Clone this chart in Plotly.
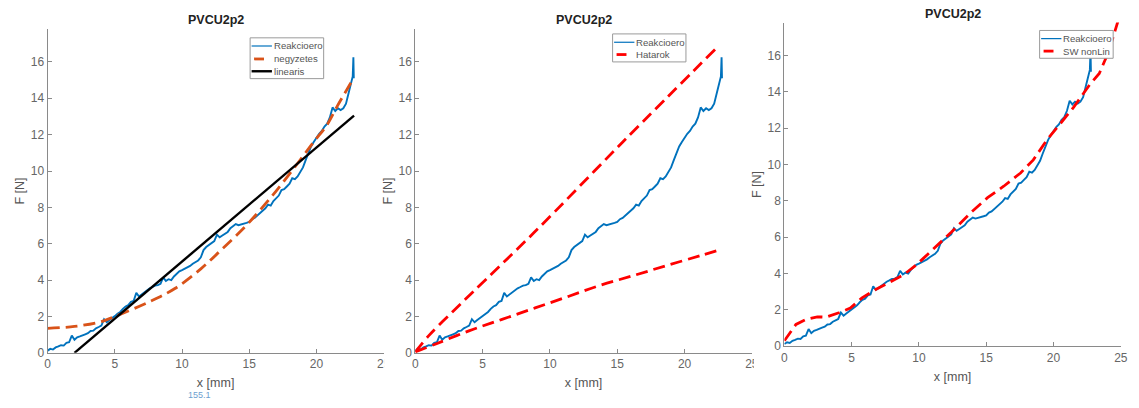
import plotly.graph_objects as go

W, H = 1139, 408
FONT = "Liberation Sans, Arial, Helvetica, sans-serif"

# ---- measured reaction force (same record in every panel) ----
reak_x = [0.0, 0.2, 0.4, 0.6, 0.8, 1.0, 1.2, 1.4, 1.6, 1.8,
          2.0, 2.2, 2.4, 2.6, 2.8, 3.0, 3.2, 3.4, 3.6, 3.8,
          4.0, 4.2, 4.4, 4.6, 4.8, 5.0, 5.2, 5.4, 5.6, 5.8,
          6.0, 6.2, 6.4, 6.6, 6.8, 7.0, 7.2, 7.4, 7.6, 7.8,
          8.0, 8.2, 8.4, 8.6, 8.8, 9.0, 9.2, 9.4, 9.6, 9.8,
          10.0, 10.2, 10.4, 10.6, 10.8, 11.0, 11.2, 11.4, 11.6, 11.8,
          12.0, 12.2, 12.4, 12.6, 12.8, 13.0, 13.2, 13.4, 13.6, 13.8,
          14.0, 14.2, 14.4, 14.6, 14.8, 15.0, 15.2, 15.4, 15.6, 15.8,
          16.0, 16.2, 16.4, 16.6, 16.8, 17.0, 17.2, 17.4, 17.6, 17.8,
          18.0, 18.2, 18.4, 18.6, 18.8, 19.0, 19.2, 19.4, 19.6, 19.8,
          20.0, 20.2, 20.4, 20.6, 20.8, 21.0, 21.2, 21.4, 21.6, 21.8,
          22.0, 22.2, 22.4, 22.6, 22.70, 22.75, 22.78]
reak_f = [0.12, 0.22, 0.18, 0.30, 0.35, 0.42, 0.40, 0.55, 0.58, 0.95,
          0.72, 0.85, 0.90, 0.98, 1.02, 1.08, 1.20, 1.22, 1.35, 1.42,
          1.50, 1.85, 1.68, 1.80, 1.90, 2.02, 2.15, 2.25, 2.42, 2.55,
          2.62, 2.80, 2.85, 3.30, 3.10, 3.22, 3.35, 3.45, 3.55, 3.62,
          3.70, 3.72, 3.80, 4.15, 3.95, 4.05, 4.00, 4.20, 4.35, 4.48,
          4.55, 4.62, 4.70, 4.78, 4.90, 5.00, 5.08, 5.25, 5.65, 5.82,
          5.92, 6.05, 6.15, 6.50, 6.35, 6.45, 6.55, 6.65, 6.85, 6.95,
          7.08, 7.02, 7.05, 7.10, 7.15, 7.20, 7.35, 7.42, 7.55, 7.70,
          7.85, 7.95, 8.15, 8.10, 8.35, 8.50, 8.65, 8.95, 9.00, 9.15,
          9.30, 9.60, 9.55, 9.70, 9.95, 10.20, 10.60, 11.00, 11.35, 11.60,
          11.85, 12.05, 12.20, 12.45, 12.60, 12.95, 13.50, 13.30, 13.45, 13.35,
          13.45, 13.70, 14.30, 14.85, 15.20, 16.25, 15.10]

# ---- panel 1: quadratic and linear fits ----
negyz_x = [0, 2, 4, 5, 7.7, 9.5, 11.4, 12.9, 14.9, 17.0, 18.8, 19.8, 20.8, 21.5, 22.6]
negyz_f = [1.35, 1.45, 1.72, 2.0, 2.85, 3.55, 4.62, 5.65, 7.1, 8.9, 10.62, 11.6, 12.55, 13.5, 14.9]
lin_x = [2.0, 22.8]
lin_f = [0.0, 13.05]

# ---- panel 2: upper / lower bounds ----
hat_up_x = [0, 1.0, 2.75, 4.35, 8.8, 15.5, 22.35]
hat_up_f = [0.05, 0.95, 2.25, 3.4, 6.6, 11.66, 16.75]
hat_lo_x = [0, 1.52, 3.98, 6.44, 8.9, 11.36, 13.8, 16.3, 18.7, 21.2, 22.8]
hat_lo_f = [0.05, 0.49, 1.21, 1.84, 2.47, 3.1, 3.73, 4.27, 4.81, 5.35, 5.71]

# ---- panel 3: SW nonlinear model ----
sw_x = [0, 0.86, 1.6, 2.45, 3.07, 4.05, 4.9, 5.77, 6.75, 7.85, 8.84, 9.8, 10.7,
        11.4, 12.4, 13.87, 15.1, 16.3, 17.55, 18.5, 19.5, 20.5, 21.5, 22.7,
        23.4, 24.1, 24.8]
sw_f = [0.3, 1.2, 1.48, 1.62, 1.6, 1.84, 2.1, 2.66, 3.11, 3.56, 3.92, 4.47, 5.1,
        5.55, 6.27, 7.36, 8.17, 8.8, 9.53, 10.25, 11.34, 12.24, 13.15, 14.4,
        15.0, 16.2, 17.9]

x_ticks = [0, 5, 10, 15, 20, 25]
y_ticks = [0, 2, 4, 6, 8, 10, 12, 14, 16]
X_MAX, Y_MAX = 25, 17.8

BLUE = "#0072BD"
ORANGE = "#D95319"
RED = "#FF0000"
DASH = "12px,6px"

# plot-area placement of the three axes, in page pixels
boxes = [
    dict(left=45, right=384, bottom=359, top=29.7, title_y=20),
    dict(left=416, right=755.5, bottom=359, top=29.7, title_y=20),
    dict(left=788.3, right=1127.7, bottom=352.3, top=23.0, title_y=14),
]


def fx(p):
    return p / W


def fy(p):
    return 1 - p / H


fig = go.Figure()

def add(trace, i):
    sfx = "" if i == 0 else str(i + 1)
    trace.update(xaxis="x" + sfx, yaxis="y" + sfx, showlegend=False)
    fig.add_trace(trace)

SIGNAL = dict(color=BLUE, width=1.9)

# panel 1
add(go.Scatter(x=reak_x, y=reak_f, mode="lines", name="Reakcioero", line=SIGNAL), 0)
add(go.Scatter(x=negyz_x, y=negyz_f, mode="lines", name="negyzetes",
               line=dict(color=ORANGE, width=2.8, dash=DASH, shape="spline")), 0)
add(go.Scatter(x=lin_x, y=lin_f, mode="lines", name="linearis",
               line=dict(color="black", width=2.4)), 0)
# panel 2
add(go.Scatter(x=reak_x, y=reak_f, mode="lines", name="Reakcioero", line=SIGNAL), 1)
add(go.Scatter(x=hat_up_x, y=hat_up_f, mode="lines", name="Hatarok",
               line=dict(color=RED, width=2.8, dash=DASH, shape="spline")), 1)
add(go.Scatter(x=hat_lo_x, y=hat_lo_f, mode="lines", name="Hatarok",
               line=dict(color=RED, width=2.8, dash=DASH, shape="spline")), 1)
# panel 3
add(go.Scatter(x=reak_x, y=reak_f, mode="lines", name="Reakcioero", line=SIGNAL), 2)
add(go.Scatter(x=sw_x, y=sw_f, mode="lines", name="SW nonLin",
               line=dict(color=RED, width=2.8, dash=DASH)), 2)

AX_COLOR = "#8a8a8a"
TICK_FONT = dict(family=FONT, size=12, color="#666666")
LABEL_FONT = dict(family=FONT, size=12.5, color="#555555")

layout = dict(
    width=W, height=H, margin=dict(l=0, r=0, t=0, b=0),
    paper_bgcolor="white", plot_bgcolor="white", showlegend=False,
)
annotations = []
shapes = []
for i, b in enumerate(boxes):
    sfx = "" if i == 0 else str(i + 1)
    layout["xaxis" + sfx] = dict(
        domain=[fx(b["left"]), fx(b["right"])], anchor="y" + sfx,
        range=[0, X_MAX], tickvals=x_ticks, showline=True, linecolor=AX_COLOR,
        linewidth=1, ticks="inside", ticklen=4, tickcolor=AX_COLOR,
        showgrid=False, zeroline=False, tickfont=TICK_FONT,
        title=dict(text="x [mm]", font=LABEL_FONT, standoff=8),
    )
    layout["yaxis" + sfx] = dict(
        domain=[fy(b["bottom"]), fy(b["top"])], anchor="x" + sfx,
        range=[0, Y_MAX], tickvals=y_ticks, showline=True, linecolor=AX_COLOR,
        linewidth=1, ticks="inside", ticklen=4, tickcolor=AX_COLOR,
        showgrid=False, zeroline=False, tickfont=TICK_FONT,
        title=dict(text="F [N]", font=LABEL_FONT, standoff=3),
    )
    annotations.append(dict(
        text="<b>PVCU2p2</b>", xref="paper", yref="paper",
        x=fx((b["left"] + b["right"]) / 2), y=fy(b["title_y"]),
        xanchor="center", yanchor="middle", showarrow=False,
        font=dict(family=FONT, size=12.5, color="#222222"),
    ))

# legend boxes: (left, right, top, bottom, entries)
# entry: (label, colour, width, dashed, row y)
legends = [
    (249.3, 323.5, 38.5, 80.0, [
        ("Reakcioero", BLUE, 1.2, False, 46.8),
        ("negyzetes", ORANGE, 2.8, True, 60.0),
        ("linearis", "black", 2.4, False, 72.5),
    ]),
    (615.0, 689.0, 34.5, 63.0, [
        ("Reakcioero", BLUE, 1.2, False, 43.0),
        ("Hatarok", RED, 2.8, True, 55.5),
    ]),
    (1045.8, 1120.0, 31.0, 59.3, [
        ("Reakcioero", BLUE, 1.2, False, 39.3),
        ("SW nonLin", RED, 2.8, True, 52.0),
    ]),
]
for left, right, top, bottom, entries in legends:
    shapes.append(dict(type="rect", xref="paper", yref="paper", layer="above",
                       x0=fx(left), x1=fx(right), y0=fy(bottom), y1=fy(top),
                       fillcolor="white", line=dict(color="#9a9a9a", width=1)))
    for label, col, wdt, dashed, ry in entries:
        if dashed:
            x0, x1 = left + 4, left + 14
        else:
            x0, x1 = left + 1.5, left + 22
        shapes.append(dict(type="line", xref="paper", yref="paper", layer="above",
                           x0=fx(x0), x1=fx(x1), y0=fy(ry), y1=fy(ry),
                           line=dict(color=col, width=wdt)))
        annotations.append(dict(
            text=label, xref="paper", yref="paper", x=fx(left + 22), y=fy(ry),
            xanchor="left", yanchor="middle", showarrow=False,
            font=dict(family=FONT, size=9.6, color="#555555"),
        ))

# each figure sits on top of its left neighbour's last tick label
for x0, x1, y0, y1 in [(384.5, 398, 361, 380), (757.5, 771, 360, 380)]:
    shapes.append(dict(type="rect", xref="paper", yref="paper", layer="above",
                       x0=fx(x0), x1=fx(x1), y0=fy(y1), y1=fy(y0),
                       fillcolor="white", line=dict(width=0)))

annotations.append(dict(
    text="155.1", xref="paper", yref="paper", x=fx(198.5), y=0,
    xanchor="center", yanchor="bottom", showarrow=False, borderpad=0,
    font=dict(family=FONT, size=9, color="#6e9fcf"),
))

layout["annotations"] = annotations
layout["shapes"] = shapes
fig.update_layout(**layout)
fig.write_html("out.html")
